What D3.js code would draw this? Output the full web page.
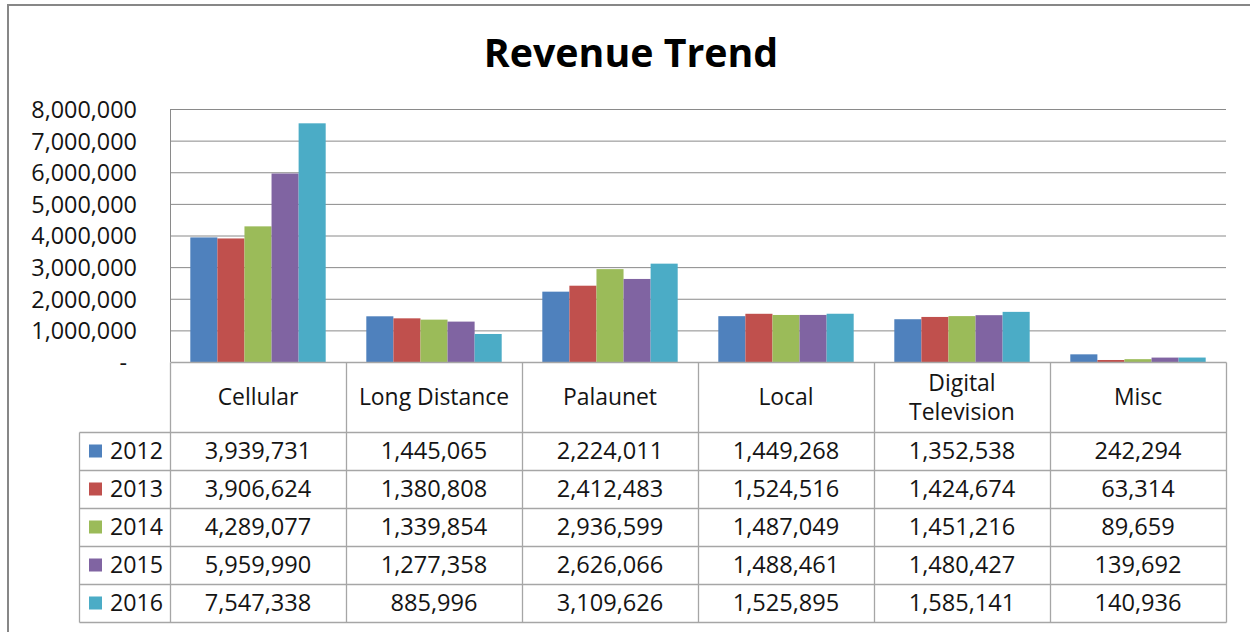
<!DOCTYPE html>
<html>
<head>
<meta charset="utf-8">
<script src="https://cdn.jsdelivr.net/npm/d3@7"></script>
<style>
  html, body { margin: 0; padding: 0; background: #fff; }
  svg { display: block; }
  text { font-family: "Open Sans", "DejaVu Sans", sans-serif; fill: #141414; }
</style>
</head>
<body>
<svg id="chart" width="1250" height="632"></svg>
<script>
// ---- Data ----
const categories = ["Cellular", "Long Distance", "Palaunet", "Local", "Digital Television", "Misc"];
const years = ["2012", "2013", "2014", "2015", "2016"];
const values2012 = [3939731, 1445065, 2224011, 1449268, 1352538, 242294];
const values2013 = [3906624, 1380808, 2412483, 1524516, 1424674, 63314];
const values2014 = [4289077, 1339854, 2936599, 1487049, 1451216, 89659];
const values2015 = [5959990, 1277358, 2626066, 1488461, 1480427, 139692];
const values2016 = [7547338, 885996, 3109626, 1525895, 1585141, 140936];
const yTicks = [0, 1000000, 2000000, 3000000, 4000000, 5000000, 6000000, 7000000, 8000000];
const seriesColors = ["#4F81BD", "#C0504D", "#9BBB59", "#8064A2", "#4BACC6"];
const title = "Revenue Trend";

const seriesValues = [values2012, values2013, values2014, values2015, values2016];
const series = years.map((yr, i) => ({ year: yr, color: seriesColors[i], values: seriesValues[i] }));

// ---- Layout ----
const svg = d3.select("#chart");
const plot = { left: 170, right: 1226, top: 109, bottom: 362 };
const legendLeft = 79;
const headerBottom = 432;
const rowH = 38;
const gridColor = "#8a8a8a";
const tableColor = "#a6a6a6";

// outer chart border
svg.append("rect")
  .attr("x", 8).attr("y", 5)
  .attr("width", 1270).attr("height", 660)
  .attr("fill", "none").attr("stroke", "#878787").attr("stroke-width", 2);

// title
svg.append("text")
  .attr("x", 631).attr("y", 67)
  .attr("text-anchor", "middle")
  .style("font-size", "39.3px").style("font-weight", "bold")
  .style("fill", "#000")
  .text(title);

// scales
const x = d3.scaleBand().domain(categories).range([plot.left, plot.right]).paddingInner(0).paddingOuter(0);
const x1 = d3.scaleBand().domain(years).range([0, x.bandwidth()]).paddingInner(0).paddingOuter(0.75);
const y = d3.scaleLinear().domain([0, 8000000]).range([plot.bottom, plot.top]);

// gridlines
const grid = svg.append("g").attr("transform", `translate(${plot.left},0)`)
  .call(d3.axisRight(y).tickValues(yTicks.filter(d => d > 0)).tickSize(plot.right - plot.left).tickFormat(""));
grid.select(".domain").remove();
grid.selectAll(".tick line").attr("stroke", gridColor).attr("stroke-width", 1);

// y axis labels
const fmt = d3.format(",");
const yAxis = svg.append("g").attr("transform", `translate(137,0)`)
  .call(d3.axisLeft(y).tickValues(yTicks).tickSize(0).tickPadding(0)
    .tickFormat(d => d === 0 ? "-" : fmt(d)));
yAxis.select(".domain").remove();
yAxis.selectAll(".tick text")
  .style("font-size", "23.4px").style("font-family", "'Open Sans', sans-serif")
  .attr("fill", "#141414")
  .attr("dy", "0.36em")
  .attr("dx", d => d === 0 ? -10 : 0);

// vertical axis line (left of plot)
svg.append("line")
  .attr("x1", plot.left + 0.5).attr("x2", plot.left + 0.5)
  .attr("y1", plot.top).attr("y2", plot.bottom)
  .attr("stroke", gridColor);

// bars
const groups = svg.append("g").selectAll("g.cat")
  .data(categories).join("g")
  .attr("class", "cat")
  .attr("transform", c => `translate(${x(c)},0)`);
groups.selectAll("rect")
  .data((c, ci) => series.map(s => ({ year: s.year, color: s.color, value: s.values[ci] })))
  .join("rect")
  .attr("x", d => x1(d.year))
  .attr("width", x1.bandwidth())
  .attr("y", d => y(d.value))
  .attr("height", d => y(0) - y(d.value))
  .attr("fill", d => d.color);

// ---- Data table ----
const table = svg.append("g");
const lines = [];
lines.push([plot.left, plot.bottom, plot.right, plot.bottom]);
for (let r = 0; r <= years.length; r++) {
  const yy = headerBottom + r * rowH;
  lines.push([legendLeft, yy, plot.right, yy]);
}
categories.forEach(c => lines.push([x(c), plot.bottom, x(c), headerBottom + years.length * rowH]));
lines.push([plot.right, plot.bottom, plot.right, headerBottom + years.length * rowH]);
lines.push([legendLeft, headerBottom, legendLeft, headerBottom + years.length * rowH]);
table.selectAll("line").data(lines).join("line")
  .attr("x1", d => Math.round(d[0]) + 0.5).attr("y1", d => Math.round(d[1]) + 0.5)
  .attr("x2", d => Math.round(d[2]) + 0.5).attr("y2", d => Math.round(d[3]) + 0.5)
  .attr("stroke", tableColor).attr("stroke-width", 1.3);

// header category labels (wrap if too wide)
const headerMid = (plot.bottom + headerBottom) / 2;
categories.forEach(c => {
  const t = table.append("text")
    .attr("x", x(c) + x.bandwidth() / 2)
    .attr("text-anchor", "middle")
    .style("font-size", "22.9px");
  t.text(c);
  let linesTxt = [c];
  if (t.node().getComputedTextLength() > x.bandwidth() - 10) {
    linesTxt = c.split(" ");
  }
  t.text(null);
  const lh = 29;
  linesTxt.forEach((ln, i) => {
    t.append("tspan")
      .attr("x", x(c) + x.bandwidth() / 2)
      .attr("y", headerMid + (i - (linesTxt.length - 1) / 2) * lh)
      .attr("dy", "0.36em")
      .text(ln);
  });
});

// rows
series.forEach((s, r) => {
  const cy = headerBottom + r * rowH + rowH / 2;
  table.append("rect")
    .attr("x", 89).attr("y", cy - 6.5)
    .attr("width", 13).attr("height", 13)
    .attr("fill", s.color);
  table.append("text")
    .attr("x", 110).attr("y", cy).attr("dy", "0.36em")
    .style("font-size", "23.2px")
    .text(s.year);
  categories.forEach((c, ci) => {
    table.append("text")
      .attr("x", x(c) + x.bandwidth() / 2)
      .attr("y", cy).attr("dy", "0.36em")
      .attr("text-anchor", "middle")
      .style("font-size", "23.6px")
      .text(fmt(s.values[ci]));
  });
});
</script>
</body>
</html>
